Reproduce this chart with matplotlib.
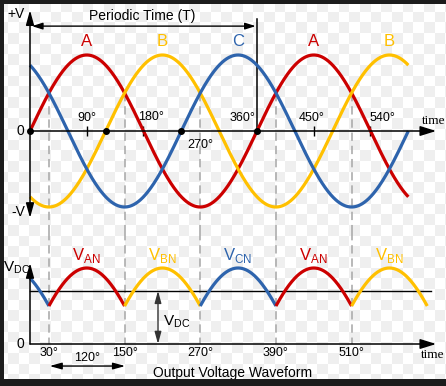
import numpy as np
import matplotlib
matplotlib.use("Agg")
import matplotlib.pyplot as plt
from matplotlib.patches import Rectangle

plt.rcParams['font.family'] = ['Liberation Sans', 'DejaVu Sans']
plt.rcParams['lines.scale_dashes'] = False

# phases: name, phase shift (deg), colour
phase_names = ['A', 'B', 'C']
phase_shift = [0, 120, 240]
phase_colors = ['#cc0000', '#ffc000', '#2e64ad']

# upper plot
upper_end = 600
peak_angles = [90, 210, 330, 450, 570]
peak_names = ['A', 'B', 'C', 'A', 'B']
dot_angles = [0, 120, 240, 360]
tick_angles = [90, 180, 450, 540]
switch_angles = [30, 150, 270, 390, 510]

# lower plot (rectified output)
lower_end = 630
segment_edges = [0, 30, 150, 270, 390, 510, 630]
vdc_level = 0.70

# pixel layout helpers (figure is 446 x 386 px)
W, H = 446, 386
k = 227 / 360.0     # px per degree
x_origin = 30
amp = 76.0

fig = plt.figure(figsize=(W / 100, H / 100), dpi=100)

# checkered background
bg = fig.add_axes([0, 0, 1, 1])
s = 10.667
nc, nr = 46, 40
x0 = 392 - 37 * s
y0 = 225 - 22 * s
checker = (np.add.outer(np.arange(nr), np.arange(nc)) % 2)
bg.imshow(np.where(checker == 1, 239, 255), cmap='gray', vmin=0, vmax=255,
          extent=[x0, x0 + nc * s, y0 + nr * s, y0], interpolation='nearest')
bg.set_xlim(0, W)
bg.set_ylim(H, 0)
bg.axis('off')

xlim = (-x_origin / k, (W - x_origin) / k)

# ---------- upper axes ----------
split = 232
ax = fig.add_axes([0, (H - split) / H, 1, split / H])
ax.set_facecolor('none')
ax.axis('off')
ax.set_xlim(*xlim)
ax.set_ylim(-(split - 131) / amp, 131 / amp)

th = np.linspace(0, upper_end, 1201)
for shift, col in zip(phase_shift, phase_colors):
    ax.plot(th, np.sin(np.radians(th - shift)), color=col, lw=2.3, zorder=3,
            solid_capstyle='butt')

ylo = ax.get_ylim()[0]
for a in switch_angles:
    ax.plot([a, a], [0.5, ylo], color='#a6a6a6', lw=1.1, ls=(0, (6, 3.5)), zorder=1)

ax.plot(dot_angles, np.zeros(len(dot_angles)), 'o', ms=4, color='k', zorder=5)
ax.vlines(tick_angles, -0.06, 0.06, color='k', lw=1, zorder=2)

# axes arrows
ax.annotate('', xy=(644, 0), xytext=(0, 0),
            arrowprops=dict(arrowstyle='-|>,head_length=0.8,head_width=0.25',
                            color='k', lw=1.1, shrinkA=0, shrinkB=0, mutation_scale=12),
            zorder=4)
ax.annotate('', xy=(0, 1.59), xytext=(0, -1.145),
            arrowprops=dict(arrowstyle='<|-|>,head_length=0.8,head_width=0.22',
                            color='k', lw=1.1, shrinkA=0, shrinkB=0, mutation_scale=11),
            zorder=4)
# periodic time
ax.plot([360, 360], [0, 1.47], color='k', lw=1.1)
ax.annotate('', xy=(358, 1.38), xytext=(3, 1.38),
            arrowprops=dict(arrowstyle='<|-|>,head_length=0.7,head_width=0.22',
                            color='k', lw=1, shrinkA=0, shrinkB=0, mutation_scale=9))
ax.text(178, 1.51, 'Periodic Time (T)', fontsize=10, ha='center', va='center')

ax.text(-22, 1.54, '+V', fontsize=10, ha='center', va='center')
ax.text(-19, -1.07, '-V', fontsize=10, ha='center', va='center')
ax.text(-16, 0, '0', fontsize=10, ha='center', va='center')
ax.text(622, 0.13, 'time', fontsize=9.5, ha='left', va='center',
        family=['Liberation Serif', 'DejaVu Serif'])

for a, n in zip(peak_angles, peak_names):
    ax.text(a, 1.18, n, fontsize=12, ha='center', va='center',
            color=phase_colors[phase_names.index(n)])

ax.text(90, 0.17, '90°', fontsize=9, ha='center', va='center')
ax.text(192, 0.18, '180°', fontsize=9, ha='center', va='center')
ax.text(270, -0.19, '270°', fontsize=9, ha='center', va='center')
ax.text(358, 0.17, '360°', fontsize=9, ha='right', va='center')
ax.text(446, 0.17, '450°', fontsize=9, ha='center', va='center')
ax.text(539, 0.17, '540°', fontsize=9, ha='left', va='center')

# ---------- lower axes ----------
bx = fig.add_axes([0, 0, 1, (H - split) / H])
bx.set_facecolor('none')
bx.axis('off')
bx.set_xlim(*xlim)
bx.set_ylim(-(H - 344) / amp, (344 - split) / amp)

for lo, hi in zip(segment_edges[:-1], segment_edges[1:]):
    mid = np.radians((lo + hi) / 2)
    i = int(np.argmax([np.sin(mid - np.radians(p)) for p in phase_shift]))
    t = np.linspace(lo, hi, 200)
    bx.plot(t, np.sin(np.radians(t - phase_shift[i])), color=phase_colors[i],
            lw=2.3, zorder=3, solid_capstyle='butt')
    # label at the peak of the segment
    pk = (lo + hi) / 2
    if hi - lo == 120:
        bx.text(pk, 1.17, r'V$_{\mathregular{%sN}}$' % phase_names[i], fontsize=12,
                ha='center', va='center', color=phase_colors[i])

yhi = bx.get_ylim()[1]
for a in switch_angles:
    bx.plot([a, a], [yhi, 0], color='#a6a6a6', lw=1.1, ls=(0, (6, 3.5)), zorder=1)

bx.plot([0, 636], [vdc_level, vdc_level], color='k', lw=1, zorder=2)
bx.annotate('', xy=(644, 0), xytext=(0, 0),
            arrowprops=dict(arrowstyle='-|>,head_length=0.8,head_width=0.25',
                            color='k', lw=1.1, shrinkA=0, shrinkB=0, mutation_scale=12),
            zorder=4)
bx.annotate('', xy=(0, 1.066), xytext=(0, 0),
            arrowprops=dict(arrowstyle='-|>,head_length=0.8,head_width=0.22',
                            color='k', lw=1.1, shrinkA=0, shrinkB=0, mutation_scale=11),
            zorder=4)
bx.annotate('', xy=(203, 0), xytext=(203, vdc_level),
            arrowprops=dict(arrowstyle='<|-|>,head_length=0.8,head_width=0.22',
                            color='#333333', lw=1, shrinkA=0, shrinkB=0, mutation_scale=9))
bx.text(211, 0.29, r'V$_{\mathregular{DC}}$', fontsize=11, ha='left', va='center')
bx.text(-22, 1.0, r'V$_{\mathregular{DC}}$', fontsize=11, ha='center', va='center')
bx.text(-16, 0, '0', fontsize=10, ha='center', va='center')
bx.text(620, -0.145, 'time', fontsize=9.5, ha='left', va='center',
        family=['Liberation Serif', 'DejaVu Serif'])

for a in switch_angles:
    bx.text(a, -0.12, '%d°' % a, fontsize=9, ha='center', va='center')
bx.text(90, -0.18, '120°', fontsize=9, ha='center', va='center')
bx.annotate('', xy=(151, -0.29), xytext=(31, -0.29),
            arrowprops=dict(arrowstyle='<|-|>,head_length=0.8,head_width=0.22',
                            color='k', lw=1, shrinkA=0, shrinkB=0, mutation_scale=9))
bx.text(322, -0.38, 'Output Voltage Waveform', fontsize=10, ha='center', va='center')

# dark frame
fr = fig.add_axes([0, 0, 1, 1], zorder=10)
fr.set_facecolor('none')
fr.axis('off')
fr.set_xlim(0, W)
fr.set_ylim(H, 0)
for r in [(0, 0, 4, H), (0, 0, W, 4), (0, 379, W, H - 379)]:
    fr.add_patch(Rectangle(r[:2], r[2], r[3], color='#1c1c1c', lw=0))

fig.savefig('out.png', dpi=100)
